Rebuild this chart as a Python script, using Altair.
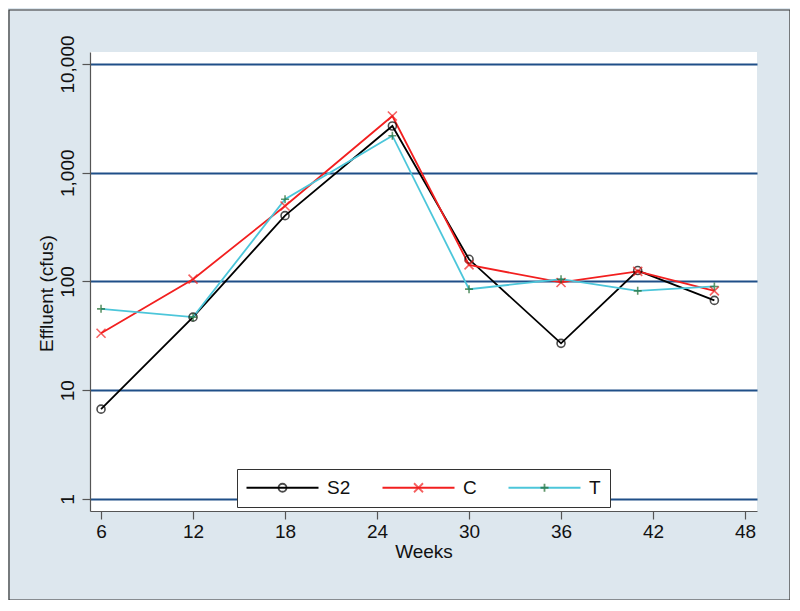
import altair as alt
import pandas as pd

# ---- data ----
weeks = [6, 12, 18, 25, 30, 36, 41, 46]
s2_vals = [6.7, 47, 403, 2690, 160, 27, 126, 67]
c_vals = [33.4, 105, 494, 3325, 142, 98, 124, 82]
t_vals = [56, 47, 570, 2190, 85, 105, 82, 90]
series = ["S2", "C", "T"]
x_ticks = [6, 12, 18, 24, 30, 36, 42, 48]
y_ticks = [1, 10, 100, 1000, 10000]

# ---- styles ----
line_colors = ["#000000", "#f21f1f", "#4cc6da"]
marker_colors = ["#000000", "#f21f1f", "#1e6b2e"]
PH = "M-7.2,0L-7.2,0M7.2,0L7.2,0"  # zero-length phantom ends (legend width only)
marker_shapes = [
    PH + "M0.8,0A0.8,0.8,0,1,1,-0.8,0A0.8,0.8,0,1,1,0.8,0",
    PH + "M-0.9,-0.9L0.9,0.9M-0.9,0.9L0.9,-0.9",
    PH + "M-0.8,0L0.8,0M0,-0.8L0,0.8",
]
FONT = "Liberation Sans"
BG = "#dde7ee"
GRID = "#1f4f88"
AXIS = "#555555"

marker_keys = ["m" + s for s in series]
rows = []
for name, key, vals in zip(series, marker_keys, [s2_vals, c_vals, t_vals]):
    for w, v in zip(weeks, vals):
        rows.append({"series": name, "marker": key, "week": w, "value": v})
df = pd.DataFrame(rows)

W, H = 667, 459
FS = 19

x_enc = alt.X(
    "week:Q",
    scale=alt.Scale(domain=[5.28, 48.78], nice=False, zero=False),
    axis=alt.Axis(values=x_ticks, title="Weeks", grid=False, tickSize=8,
                  labelPadding=3, titleY=31, titleBaseline="top"),
)
y_enc = alt.Y(
    "value:Q",
    scale=alt.Scale(type="log", domain=[0.7756, 12887], nice=False),
    axis=alt.Axis(values=y_ticks, format=",", title="Effluent (cfus)", grid=True,
                  gridColor=GRID, gridWidth=2, tickSize=8, labelAngle=270,
                  labelAlign="center", labelBaseline="alphabetic", labelPadding=9,
                  titleAngle=270, titleX=-38, titleY=241, titleAlign="center",
                  titleBaseline="alphabetic"),
)

common_legend = dict(
    orient="none", legendX=147, legendY=417, direction="horizontal",
    padding=9, symbolSize=100, labelFontSize=FS, labelFont=FONT,
    symbolOffset=27, labelOffset=35, columnPadding=27,
    symbolStrokeWidth=1.8,
)

legend_lines = alt.Legend(
    fillColor="white", strokeColor="#333333",
    symbolType="M-7.2,0L7.2,0", labelColor="#111111", zindex=1,
    **common_legend,
)
legend_markers = alt.Legend(labelOpacity=0, zindex=2,
                            labelExpr="substring(datum.label, 1)", **common_legend)

lines = alt.Chart(df).mark_line(strokeWidth=1.8).encode(
    x=x_enc, y=y_enc,
    color=alt.Color("series:N", title=None,
                    scale=alt.Scale(domain=series, range=line_colors),
                    legend=legend_lines),
)

points = alt.Chart(df).mark_point(filled=False, strokeWidth=1.6, size=100).encode(
    x="week:Q", y="value:Q",
    shape=alt.Shape("marker:N", title=None,
                    scale=alt.Scale(domain=marker_keys, range=marker_shapes),
                    legend=legend_markers),
    stroke=alt.Stroke("marker:N", title=None,
                      scale=alt.Scale(domain=marker_keys, range=marker_colors),
                      legend=legend_markers),
)

frame = alt.Chart(alt.Data(values=[{}])).mark_rect(
    fillOpacity=0, stroke="#333333", strokeWidth=1.2
).encode(x=alt.value(-81), x2=alt.value(700), y=alt.value(-42), y2=alt.value(548))

chart = alt.layer(lines, points, frame).properties(
    width=W, height=H,
    autosize=alt.AutoSizeParams(type="none"),
    padding={"left": 82, "top": 44, "right": 33, "bottom": 89},
    background=BG,
).configure_view(
    fill="white", strokeWidth=0
).configure_axis(
    labelFont=FONT, titleFont=FONT, labelFontSize=FS, titleFontSize=FS,
    labelColor="#111111", titleColor="#111111", titleFontWeight="normal",
    domainColor=AXIS, tickColor=AXIS, domainWidth=1.2, tickWidth=1.2,
)

chart.save("out.html", embed_options={"renderer": "svg", "actions": False})
